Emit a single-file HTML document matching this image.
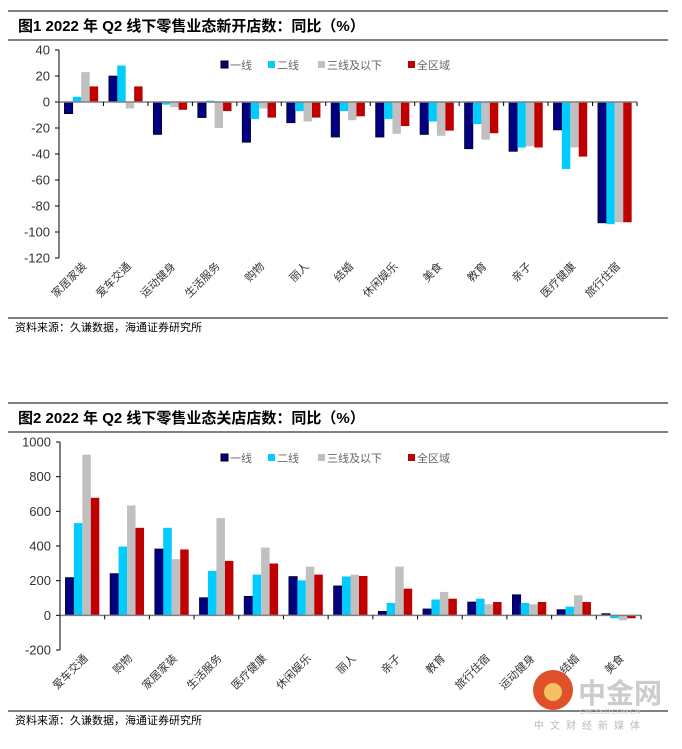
<!DOCTYPE html>
<html><head><meta charset="utf-8"><style>
body{margin:0;background:#fff;width:682px;height:744px;overflow:hidden}
svg text{font-family:"Liberation Sans","Noto Sans CJK SC",sans-serif}
</style></head><body>
<svg id="s" width="682" height="744" xmlns="http://www.w3.org/2000/svg">
<line x1="8" y1="11" x2="668" y2="11" stroke="#000" stroke-width="1"/>
<text x="18" y="31" font-size="15" font-weight="bold">图1  2022 年 Q2 线下零售业态新开店数：同比（%）</text>
<line x1="8" y1="40" x2="668" y2="40" stroke="#000"/>
<line x1="8" y1="318" x2="668" y2="318" stroke="#000"/>
<text x="15" y="331" font-size="11">资料来源：久谦数据，海通证券研究所</text>
<line x1="8" y1="403" x2="668" y2="403" stroke="#000"/>
<text x="18" y="423" font-size="15" font-weight="bold">图2  2022 年 Q2 线下零售业态关店店数：同比（%）</text>
<line x1="8" y1="432" x2="668" y2="432" stroke="#000"/>
<line x1="8" y1="711" x2="668" y2="711" stroke="#000"/>
<text x="15" y="724" font-size="11">资料来源：久谦数据，海通证券研究所</text>
<g>
<circle cx="553" cy="690" r="20" fill="#e0502a"/>
<circle cx="553" cy="692" r="9" fill="#f5c060"/>
<text x="578" y="703" font-size="28" font-weight="bold" fill="#ccc">中金网</text>
<text x="580" y="714" font-size="7" fill="#ccc">CNGOLD.COM.CN</text>
<text x="534" y="729" font-size="10" fill="#bbb" letter-spacing="6">中文财经新媒体</text>
</g>
</svg>
<script>
const seriesNames=["一线","二线","三线及以下","全区域"];
const colors=["#000080","#00ccff","#c0c0c0","#c00000"];
const cats1=["家居家装","爱车交通","运动健身","生活服务","购物","丽人","结婚","休闲娱乐","美食","教育","亲子","医疗健康","旅行住宿"];
const tier1A=[-9,20,-25,-12,-31,-16,-27,-27,-25,-36,-38,-21.5,-93];
const tier2A=[4,28,-2,1,-13,-7,-7,-13,-15,-17,-35,-51.5,-94];
const tier3A=[23,-5,-4,-20,-5,-15,-14,-24.5,-26,-29,-34,-35,-92.5];
const allA=[12,12,-6,-7,-12,-12,-11,-18.5,-22,-24,-35,-42,-92.5];
const ticks1=[40,20,0,-20,-40,-60,-80,-100,-120];
const cats2=["爱车交通","购物","家居家装","生活服务","医疗健康","休闲娱乐","丽人","亲子","教育","旅行住宿","运动健身","结婚","美食"];
const tier1B=[218,241,383,102,110,224,170,23,37,77,119,33,10];
const tier2B=[532,397,505,256,235,202,224,71,91,96,71,50,-17];
const tier3B=[927,634,324,561,391,281,235,281,135,64,64,116,-29];
const allB=[678,505,380,314,299,235,227,154,96,77,77,77,-17];
const ticks2=[1000,800,600,400,200,0,-200];

const NS="http://www.w3.org/2000/svg";
const svg=document.getElementById('s');
function mk(t,a,p){const e=document.createElementNS(NS,t);for(const k in a)e.setAttribute(k,a[k]);(p||svg).appendChild(e);return e;}

function chart(cfg){
  const g=mk('g',{});
  
  
  const {x0,x1,yTop,yBot,vMax,vMin,cats,series}=cfg;
  const y=v=>yTop+(vMax-v)/(vMax-vMin)*(yBot-yTop);
  const bw=(x1-x0)/cats.length;
  const ax=mk('line',{x1:x0,y1:yTop,x2:x0,y2:yBot,stroke:'#000'},g);
  
  
  cfg.ticks.forEach(t=>{
    mk('line',{x1:x0-4,y1:y(t),x2:x0,y2:y(t),stroke:'#000'},g);
    const tx=mk('text',{x:x0-9,y:y(t)+4.5,'font-size':13,'text-anchor':'end',fill:'#333'},g);
    tx.textContent=t;
    
    
  });
  const barW=bw*0.19, off=bw*0.12;
  cats.forEach((c,i)=>{
    series.forEach((s,j)=>{
      const v=s[i];const bx=x0+i*bw+off+j*barW;
      const r=mk('rect',{x:bx,y:Math.min(y(v),y(0)),width:barW,height:Math.abs(y(v)-y(0)),fill:colors[j],stroke:j==0?'#000':'none','stroke-width':0.6},g);
      
      
    });
    const cx=x0+(i+0.5)*bw;
    const lt=mk('text',{x:0,y:0,'font-size':11,'text-anchor':'end',fill:'#333',transform:`translate(${cx+6},${yBot+9}) rotate(-45)`},g);
    lt.textContent=c;
    
    
  });
  const xa=mk('line',{x1:x0,y1:y(0),x2:x1,y2:y(0),stroke:'#808080','stroke-width':1.5},g);
  
  
  for(let i=0;i<=cats.length;i++) mk('line',{x1:x0+i*bw,y1:y(0),x2:x0+i*bw,y2:y(0)+4,stroke:'#000'},g);
  const lx=[221,268,318,408];
  seriesNames.forEach((n,j)=>{
    const lg=mk('g',{},g);
    
    
    mk('rect',{x:lx[j],y:cfg.legY-4,width:7,height:7,fill:colors[j],stroke:j==0?'#000':'none'},lg);
    const t=mk('text',{x:lx[j]+9,y:cfg.legY+4,'font-size':11,fill:'#666'},lg);
    t.textContent=n;
  });
}
chart({name:'fig1-chart',x0:59,x1:637,yTop:50,yBot:258,vMax:40,vMin:-120,cats:cats1,series:[tier1A,tier2A,tier3A,allA],ticks:ticks1,legY:65});
chart({name:'fig2-chart',x0:60,x1:641,yTop:442,yBot:650,vMax:1000,vMin:-200,cats:cats2,series:[tier1B,tier2B,tier3B,allB],ticks:ticks2,legY:458});
</script>
</body></html>
